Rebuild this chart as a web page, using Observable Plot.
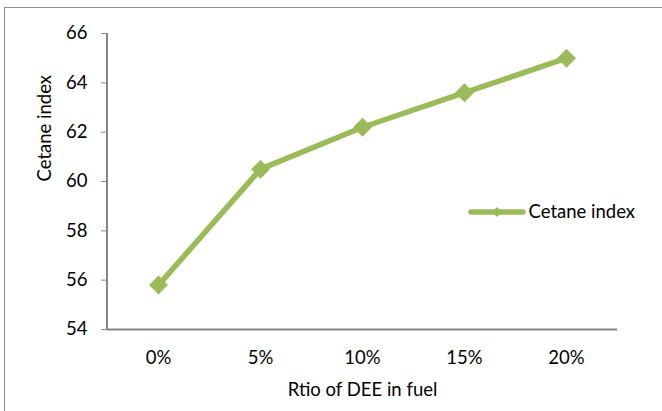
<!DOCTYPE html>
<html>
<head>
<meta charset="utf-8">
<script src="https://cdn.jsdelivr.net/npm/d3@7"></script>
<script src="https://cdn.jsdelivr.net/npm/@observablehq/plot@0.6"></script>
<style>
  html, body { margin: 0; padding: 0; background: #fff; }
  #chart { position: relative; width: 662px; height: 411px; overflow: hidden; }
  #frame { position: absolute; left: 4px; top: 7px; width: 700px; height: 500px;
           border: 1.5px solid #8c8c8c; box-sizing: border-box; pointer-events: none; }
  svg { font-family: Lato, "Open Sans", sans-serif; }
</style>
</head>
<body>
<div id="chart"><div id="frame"></div></div>
<script>
// DEE blend ratio vs. cetane index
const ratios = ["0%", "5%", "10%", "15%", "20%"];
const cetane = [55.8, 60.5, 62.2, 63.6, 65.0];
const yTicks = [54, 56, 58, 60, 62, 64, 66];
const seriesName = "Cetane index";

const rows = ratios.map((r, i) => ({ratio: r, value: cetane[i]}));
const green = "#9bbb59";
const axisGray = "#868686";
const fs = 18.5;

const plot = Plot.plot({
  width: 662,
  height: 411,
  marginLeft: 107,
  marginRight: 45,
  marginTop: 33,
  marginBottom: 82,
  style: {fontFamily: "Lato, 'Open Sans', sans-serif", fontSize: fs + "px", color: "#000", background: "transparent"},
  x: {type: "band", domain: ratios, padding: 0, label: null},
  y: {domain: [54, 66], label: null},
  marks: [
    Plot.axisY({ticks: yTicks, tickSize: 6, tickPadding: 14, stroke: axisGray, strokeOpacity: 1, fill: "#000", fontSize: fs, label: null}),
    Plot.axisX({tickSize: 0, tickPadding: 21, fontSize: fs, fill: "#000", label: null}),
    Plot.ruleY([54], {stroke: axisGray, strokeWidth: 2}),
    Plot.lineY(rows, {x: "ratio", y: "value", stroke: green, strokeWidth: 5.5, strokeLinejoin: "round"}),
    Plot.dot(rows, {x: "ratio", y: "value", symbol: "square", rotate: 45, r: 7, fill: green, stroke: green, strokeWidth: 1}),
    // legend label
    Plot.text([seriesName], {frameAnchor: "top-left", dx: 421, dy: 179, lineAnchor: "middle", text: d => d, textAnchor: "start", fontSize: fs, fill: "#000"}),
    // axis titles
    Plot.text(["Rtio of DEE in fuel"], {frameAnchor: "bottom", dy: 61, lineAnchor: "middle", text: d => d, fontSize: fs, fill: "#000"}),
    Plot.text(["Cetane index"], {frameAnchor: "left", dx: -62, dy: 0, rotate: -90, text: d => d, fontSize: fs, fill: "#000"})
  ]
});

// y axis line along the left edge of the plot area
const svg = d3.select(plot);
svg.append("line")
  .attr("x1", 107).attr("x2", 107).attr("y1", 33).attr("y2", 329)
  .attr("stroke", axisGray).attr("stroke-width", 2);

// legend line with its marker
const lg = svg.append("g");
lg.append("line").attr("x1", 471).attr("x2", 523).attr("y1", 212).attr("y2", 212)
  .attr("stroke", green).attr("stroke-width", 5.5).attr("stroke-linecap", "round");
lg.append("path").attr("d", "M497,207L502,212L497,217L492,212Z").attr("fill", green);

document.getElementById("chart").prepend(plot);
</script>
</body>
</html>
